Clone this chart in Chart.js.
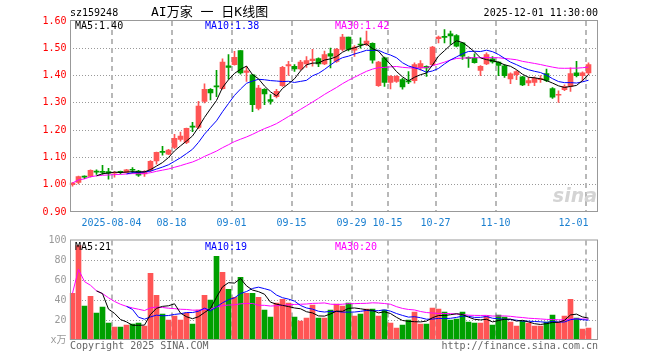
<!DOCTYPE html>
<html>
<head>
<meta charset="utf-8">
<script src="https://cdn.jsdelivr.net/npm/chart.js@4.4.1/dist/chart.umd.min.js"></script>
<style>
    html, body { margin: 0; padding: 0; background: #fff; }
    #wrap { position: relative; width: 660px; height: 360px; }
    canvas { position: absolute; left: 0; }
    #klineChart { top: 0; }
    #volumeChart { top: 231px; }
</style>
</head>
<body>
<div id="wrap">
    <canvas id="klineChart" width="660" height="231"></canvas>
    <canvas id="volumeChart" width="660" height="129"></canvas>
</div>
<script>
// 交易日（2025-07-24 ~ 2025-12-01）
const dates = [
    '07-24', '07-25', '07-28', '07-29', '07-30', '07-31', '08-01',
    '08-04', '08-05', '08-06', '08-07', '08-08', '08-11', '08-12', '08-13', '08-14', '08-15',
    '08-18', '08-19', '08-20', '08-21', '08-22', '08-25', '08-26', '08-27', '08-28', '08-29',
    '09-01', '09-02', '09-03', '09-04', '09-05', '09-08', '09-09', '09-10', '09-11', '09-12',
    '09-15', '09-16', '09-17', '09-18', '09-19', '09-22', '09-23', '09-24', '09-25', '09-26',
    '09-29', '09-30', '10-09', '10-10', '10-13', '10-14', '10-15', '10-16', '10-17',
    '10-20', '10-21', '10-22', '10-23', '10-24', '10-27', '10-28', '10-29', '10-30', '10-31',
    '11-03', '11-04', '11-05', '11-06', '11-07', '11-10', '11-11', '11-12', '11-13', '11-14',
    '11-17', '11-18', '11-19', '11-20', '11-21', '11-24', '11-25', '11-26', '11-27', '11-28',
    '12-01'
];

// 日K数据（元）
const openP = [
    1.000, 1.008, 1.030, 1.030, 1.050, 1.048, 1.048, 1.042, 1.047, 1.045,
    1.055, 1.050, 1.040, 1.053, 1.087, 1.122, 1.112, 1.137, 1.166, 1.155,
    1.214, 1.210, 1.305, 1.350, 1.362, 1.352, 1.436, 1.440, 1.492, 1.412,
    1.403, 1.280, 1.350, 1.312, 1.323, 1.363, 1.435, 1.434, 1.424, 1.443,
    1.455, 1.462, 1.443, 1.481, 1.452, 1.496, 1.541, 1.493, 1.515, 1.514,
    1.518, 1.363, 1.465, 1.375, 1.379, 1.385, 1.381, 1.381, 1.428, 1.434,
    1.440, 1.535, 1.544, 1.553, 1.547, 1.520, 1.466, 1.465, 1.419, 1.443,
    1.461, 1.449, 1.436, 1.388, 1.403, 1.395, 1.373, 1.375, 1.385, 1.407,
    1.352, 1.328, 1.348, 1.360, 1.410, 1.400, 1.410
];
const highP = [
    1.008, 1.032, 1.033, 1.055, 1.055, 1.071, 1.060, 1.048, 1.050, 1.056,
    1.063, 1.053, 1.052, 1.088, 1.120, 1.141, 1.130, 1.185, 1.193, 1.208,
    1.229, 1.306, 1.370, 1.352, 1.419, 1.461, 1.477, 1.489, 1.492, 1.434,
    1.405, 1.364, 1.352, 1.330, 1.350, 1.434, 1.452, 1.440, 1.456, 1.470,
    1.496, 1.465, 1.490, 1.501, 1.500, 1.551, 1.541, 1.510, 1.538, 1.563,
    1.520, 1.452, 1.468, 1.400, 1.400, 1.390, 1.415, 1.447, 1.455, 1.436,
    1.507, 1.545, 1.569, 1.563, 1.550, 1.522, 1.469, 1.480, 1.437, 1.483,
    1.470, 1.450, 1.440, 1.410, 1.418, 1.397, 1.393, 1.395, 1.400, 1.424,
    1.356, 1.344, 1.366, 1.428, 1.452, 1.414, 1.447
];
const lowP = [
    0.995, 1.003, 1.022, 1.028, 1.038, 1.038, 1.020, 1.028, 1.040, 1.043,
    1.042, 1.030, 1.030, 1.048, 1.075, 1.108, 1.110, 1.132, 1.160, 1.150,
    1.194, 1.205, 1.300, 1.311, 1.323, 1.350, 1.387, 1.438, 1.405, 1.379,
    1.268, 1.274, 1.293, 1.295, 1.318, 1.360, 1.401, 1.415, 1.420, 1.430,
    1.434, 1.433, 1.440, 1.428, 1.448, 1.490, 1.490, 1.470, 1.500, 1.510,
    1.445, 1.360, 1.360, 1.351, 1.375, 1.350, 1.370, 1.372, 1.420, 1.397,
    1.437, 1.520, 1.520, 1.514, 1.505, 1.459, 1.430, 1.445, 1.400, 1.440,
    1.445, 1.400, 1.393, 1.370, 1.385, 1.363, 1.363, 1.363, 1.375, 1.378,
    1.316, 1.302, 1.345, 1.342, 1.395, 1.380, 1.403
];
const closeP = [
    1.006, 1.030, 1.028, 1.053, 1.046, 1.045, 1.042, 1.045, 1.045, 1.055,
    1.053, 1.035, 1.048, 1.086, 1.119, 1.118, 1.127, 1.170, 1.178, 1.207,
    1.211, 1.288, 1.350, 1.336, 1.358, 1.449, 1.430, 1.467, 1.410, 1.417,
    1.293, 1.354, 1.333, 1.305, 1.342, 1.430, 1.440, 1.424, 1.449, 1.455,
    1.460, 1.443, 1.477, 1.471, 1.496, 1.541, 1.496, 1.504, 1.512, 1.526,
    1.456, 1.449, 1.375, 1.397, 1.397, 1.358, 1.377, 1.440, 1.444, 1.428,
    1.504, 1.541, 1.540, 1.545, 1.508, 1.471, 1.463, 1.447, 1.434, 1.477,
    1.450, 1.437, 1.400, 1.406, 1.415, 1.366, 1.382, 1.390, 1.388, 1.382,
    1.321, 1.331, 1.360, 1.407, 1.400, 1.410, 1.440
];

// 成交量（万手）
const volume = [
    47, 95, 34, 44, 27, 33, 17, 13, 13, 15,
    16, 17, 14, 67, 45, 26, 20, 24, 20, 27,
    16, 30, 45, 40, 84, 68, 51, 43, 63, 47,
    47, 43, 30, 23, 37, 41, 37, 23, 19, 22,
    35, 22, 22, 30, 36, 34, 37, 24, 26, 31,
    31, 24, 30, 17, 12, 15, 20, 28, 16, 16,
    32, 31, 28, 20, 21, 28, 18, 17, 17, 24,
    15, 25, 23, 18, 14, 19, 17, 14, 14, 18,
    25, 18, 24, 41, 22, 11, 12
];

// 横轴刻度
const tickDates = ['08-04', '08-18', '09-01', '09-15', '09-29', '10-15', '10-27', '11-10', '12-01'];
const tickLabels = ['2025-08-04', '08-18', '09-01', '09-15', '09-29', '10-15', '10-27', '11-10', '12-01'];
const priceTicks = [0.9, 1.0, 1.1, 1.2, 1.3, 1.4, 1.5, 1.6];
const volumeTicks = [0, 20, 40, 60, 80, 100];

const MONO = "'DejaVu Sans Mono', 'Noto Sans CJK SC', monospace";
const UP = '#ff5555';
const DOWN = '#00a000';
const GRID = '#999999';

// 多留一个空位在最右边
const slots = dates.concat(['']);

// 均线：不足 n 天时 MA30 用已有数据的均值
function movingAvg(values, n, fromStart) {
    return values.map(function (v, i) {
        if (i < n - 1 && !fromStart) return null;
        const part = values.slice(Math.max(0, i - n + 1), i + 1);
        return part.reduce(function (s, x) { return s + x; }, 0) / part.length;
    });
}

const candleColors = closeP.map(function (c, i) { return c >= openP[i] ? UP : DOWN; });
const bodies = openP.map(function (o, i) { return [o, closeP[i]]; });
const wicks = lowP.map(function (l, i) { return [l, highP[i]]; });

function tickText(index) {
    const pos = tickDates.indexOf(slots[index]);
    if (pos < 0) return '';
    // 最后一个日期靠右框内显示
    return pos === tickLabels.length - 1 ? tickLabels[pos] + '    ' : tickLabels[pos];
}

function lineSet(data, color) {
    return {
        type: 'line',
        data: data,
        borderColor: color,
        borderWidth: 1,
        pointRadius: 0,
        tension: 0,
        order: 0
    };
}

function xScale(showLabels, height) {
    return {
        type: 'category',
        offset: true,
        grid: { display: false, drawTicks: false },
        border: { display: false },
        ticks: {
            display: showLabels,
            autoSkip: false,
            maxRotation: 0,
            minRotation: 0,
            padding: 5,
            labelOffset: -3,
            color: '#1a7fd0',
            font: { family: MONO, size: 10 },
            callback: function (val, i) { return tickText(i); }
        },
        afterFit: function (scale) { scale.height = height; }
    };
}

function yScale(ticks, color, format) {
    return {
        min: ticks[0],
        max: ticks[ticks.length - 1],
        afterBuildTicks: function (scale) {
            scale.ticks = ticks.map(function (v) { return { value: v }; });
        },
        grid: {
            drawTicks: false,
            color: function (ctx) {
                return (ctx.index === 0 || ctx.index === ticks.length - 1) ? 'rgba(0,0,0,0)' : GRID;
            }
        },
        border: { display: false, dash: [1, 2] },
        ticks: {
            padding: 3,
            color: color,
            font: { family: MONO, size: 10 },
            callback: format
        },
        afterFit: function (scale) { scale.width = 69.5; }
    };
}

// 日期竖虚线（位置取自 x 轴）
const dateLines = {
    id: 'dateLines',
    beforeDatasetsDraw: function (chart) {
        const ctx = chart.ctx;
        const a = chart.chartArea;
        const xs = chart.scales.x;
        const half = (xs.getPixelForValue(1) - xs.getPixelForValue(0)) / 2;
        ctx.save();
        ctx.strokeStyle = '#b8b8b8';
        ctx.lineWidth = 2;
        ctx.setLineDash([5, 4]);
        tickDates.forEach(function (d) {
            const x = Math.round(xs.getPixelForValue(slots.indexOf(d)) - half);
            ctx.beginPath();
            ctx.moveTo(x, a.top);
            ctx.lineTo(x, a.bottom);
            ctx.stroke();
        });
        ctx.restore();
    }
};

// 边框和文字
function overlay(texts) {
    return {
        id: 'overlay',
        afterDraw: function (chart) {
            const ctx = chart.ctx;
            const a = chart.chartArea;
            ctx.save();
            ctx.strokeStyle = '#999999';
            ctx.lineWidth = 1;
            ctx.strokeRect(a.left + 1, a.top - 0.5, a.right - a.left - 1, a.bottom - a.top);
            texts.forEach(function (t) {
                ctx.font = t.font || ('10px ' + MONO);
                ctx.fillStyle = t.color;
                ctx.textAlign = t.align || 'left';
                ctx.textBaseline = 'middle';
                ctx.fillText(t.text, t.x, t.y);
            });
            ctx.restore();
        }
    };
}

const klineCanvas = document.getElementById('klineChart');
new Chart(klineCanvas, {
    type: 'bar',
    data: {
        labels: slots,
        datasets: [
            lineSet(movingAvg(closeP, 5, false), '#000000'),
            lineSet(movingAvg(closeP, 10, false), '#0000ff'),
            lineSet(movingAvg(closeP, 30, true), '#ff00ff'),
            {
                data: bodies,
                backgroundColor: candleColors,
                barThickness: 5,
                grouped: false,
                minBarLength: 1,
                order: 1
            },
            {
                data: wicks,
                backgroundColor: candleColors,
                barThickness: 1,
                grouped: false,
                order: 2
            }
        ]
    },
    options: {
        responsive: false,
        animation: false,
        events: [],
        layout: { padding: { top: 21, right: 62.5, bottom: 0, left: 0 } },
        plugins: { legend: { display: false }, tooltip: { enabled: false } },
        scales: {
            x: xScale(true, 19),
            y: yScale(priceTicks, '#ff0000', function (v) { return Number(v).toFixed(2); })
        }
    },
    plugins: [dateLines, overlay([
        { text: 'sz159248', x: 70, y: 13, color: '#000' },
        { text: 'AI万家 一 日K线图', x: 151, y: 13, color: '#000', font: "13px 'DejaVu Sans Mono', 'Noto Sans CJK SC'" },
        { text: '2025-12-01 11:30:00', x: 598, y: 13, color: '#000', align: 'right' },
        { text: 'MA5:1.40', x: 75, y: 26, color: '#000' },
        { text: 'MA10:1.38', x: 205, y: 26, color: '#0000ff' },
        { text: 'MA30:1.42', x: 335, y: 26, color: '#ff00ff' },
        { text: 'sina', x: 597, y: 197, color: '#d4d4d4', align: 'right', font: "italic bold 19px 'DejaVu Sans'" }
    ])]
});

const volumeCanvas = document.getElementById('volumeChart');
new Chart(volumeCanvas, {
    type: 'bar',
    data: {
        labels: slots,
        datasets: [
            lineSet(movingAvg(volume, 5, false), '#000000'),
            lineSet(movingAvg(volume, 10, false), '#0000ff'),
            lineSet(movingAvg(volume, 30, true), '#ff00ff'),
            {
                data: volume,
                backgroundColor: candleColors,
                barThickness: 5,
                order: 1
            }
        ]
    },
    options: {
        responsive: false,
        animation: false,
        events: [],
        layout: { padding: { top: 9.5, right: 62.5, bottom: 20, left: 0 } },
        plugins: { legend: { display: false }, tooltip: { enabled: false } },
        scales: {
            x: xScale(false, 0),
            y: yScale(volumeTicks, '#999999', function (v) { return v === 0 ? 'x万' : String(v); })
        }
    },
    plugins: [dateLines, overlay([
        { text: 'MA5:21', x: 75, y: 16, color: '#000' },
        { text: 'MA10:19', x: 205, y: 16, color: '#0000ff' },
        { text: 'MA30:20', x: 335, y: 16, color: '#ff00ff' },
        { text: 'Copyright 2025 SINA.COM', x: 70, y: 115, color: '#666666' },
        { text: 'http://finance.sina.com.cn', x: 598, y: 115, color: '#666666', align: 'right' }
    ])]
});
</script>
</body>
</html>
